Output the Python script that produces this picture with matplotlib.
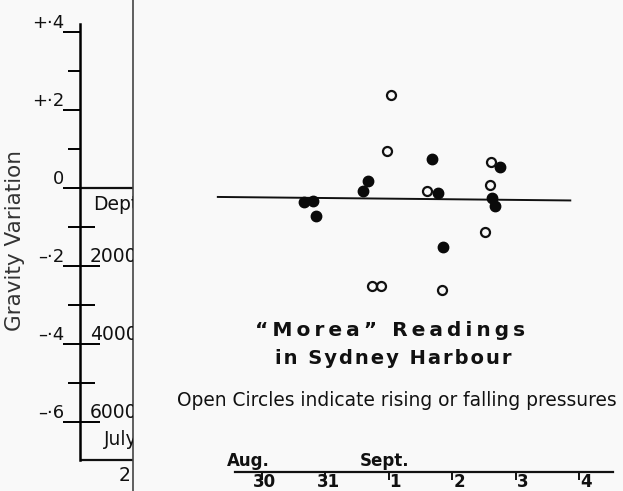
import numpy as np
import matplotlib.pyplot as plt
from matplotlib.transforms import offset_copy

plt.rcParams['font.family'] = ['DejaVu Sans']

# readings, day counted from Aug 30 (0) ; gravity variation
filled_day = [0.67, 0.81, 0.85, 1.60, 1.68, 2.69, 2.77, 2.85, 3.62, 3.67, 3.76]
filled_grav = [-0.037, -0.033, -0.071, -0.008, 0.019, 0.075, -0.014, -0.151, -0.026, -0.046, 0.055]
# open circles = rising or falling pressure
open_day = [2.04, 1.98, 2.61, 1.74, 1.88, 2.84, 3.61, 3.60, 3.52]
open_grav = [0.238, 0.096, -0.008, -0.252, -0.252, -0.262, 0.067, 0.007, -0.113]

mean_day = [-0.69, 4.86]
mean_grav = [-0.023, -0.032]

date_ticks = [0, 1, 2, 3, 4, 5]
date_labels = ['30', '31', '1', '2', '3', '4']
month_names = ['Aug.', 'Sept.']
month_day = [-0.545, 1.55]

grav_ticks = [0.4, 0.2, 0.0, -0.2, -0.4, -0.6]
grav_labels = ['+·4', '+·2', '0', '–·2', '–·4', '–·6']
grav_minor = [0.3, 0.1, -0.1, -0.3, -0.5]
depth_ticks = [2000, 4000, 6000]
depth_minor = [1000, 3000, 5000]

ylo, yhi = -0.777, 0.482
fig = plt.figure(figsize=(6.23, 4.91), dpi=100, facecolor='#f9f9f9')

# main plot area
ax = fig.add_axes([0, 0, 1, 1])
ax.set_xlim(-4.12, 5.69)
ax.set_ylim(ylo, yhi)
ax.axis('off')

ax.plot(mean_day, mean_grav, color='#111111', lw=1.4)
ax.plot(filled_day, filled_grav, 'o', ms=7.5, color='#0a0a0a', mec='#0a0a0a')
ax.plot(open_day, open_grav, 'o', ms=6.5, mfc='none', mec='#111111', mew=1.6)

# date axis
axis_y = -0.728
ax.plot([-0.42, 5.53], [axis_y, axis_y], color='#111111', lw=1.6)
ax.vlines(date_ticks, axis_y - 0.022, axis_y, color='#111111', lw=1.4)
for d, lab in zip(date_ticks, date_labels):
    if len(lab) == 2:
        tr = offset_copy(ax.transData, fig=fig, x=3, y=-1, units='dots')
        ax.text(d, axis_y, lab, transform=tr, ha='center', va='top',
                fontsize=12, fontweight='bold', color='#111111')
    else:
        tr = offset_copy(ax.transData, fig=fig, x=1, y=-1, units='dots')
        ax.text(d, axis_y, lab, transform=tr, ha='left', va='top',
                fontsize=12, fontweight='bold', color='#111111')
for d, name in zip(month_day, month_names):
    tr = offset_copy(ax.transData, fig=fig, x=0, y=2, units='dots')
    ax.text(d, axis_y, name, transform=tr, ha='left', va='bottom',
            fontsize=12, fontweight='bold', color='#111111')


def spaced(s, gap):
    return gap.join(s)


fig.text(390 / 623, 1 - 331 / 491, spaced('“Morea” Readings', '\u2009'),
         ha='center', va='center', fontsize=14.5, fontweight='bold', color='#111111')
fig.text(393 / 623, 1 - 358 / 491, spaced('in Sydney Harbour', '\u200a'),
         ha='center', va='center', fontsize=14, fontweight='bold', color='#111111')
fig.text(397 / 623, 1 - 401 / 491, 'Open Circles indicate rising or falling pressures',
         ha='center', va='center', fontsize=13.4, color='#111111')

# gravity scale on the left
ax_g = fig.add_axes([80 / 623, 0, 53 / 623, 1])
ax_g.set_facecolor('none')
ax_g.set_ylim(ylo, yhi)
ax_g.set_xlim(0, 1)
ax_g.spines['top'].set_visible(False)
ax_g.spines['bottom'].set_visible(False)
ax_g.spines['left'].set_bounds(-0.697, 0.42)
ax_g.spines['left'].set_linewidth(1.8)
ax_g.spines['right'].set_linewidth(1.2)
ax_g.spines['right'].set_color('#444444')
ax_g.set_xticks([])
ax_g.set_yticks(grav_ticks)
ax_g.set_yticklabels(grav_labels, va='bottom', fontsize=13, color='#111111')
ax_g.set_yticks(grav_minor, minor=True)
ax_g.tick_params(axis='y', which='major', direction='out', length=12.2, width=1.4, pad=-1)
ax_g.tick_params(axis='y', which='minor', direction='out', length=8.6, width=1.4)
ax_g.axhline(0, color='#111111', lw=1.6)
ax_g.axhline(-0.697, color='#111111', lw=1.6)
ax_g.set_ylabel('Gravity Variation', fontsize=15.5, color='#333333', labelpad=0)
ax_g.yaxis.set_label_coords(-1.04, 0.51)

# depth scale sharing the same line
ax_d = ax_g.twinx()
ax_d.set_ylim(-ylo * 10000, -yhi * 10000)
for s in ax_d.spines.values():
    s.set_visible(False)
ax_d.spines['right'].set_position(('axes', 0))
ax_d.set_yticks(depth_ticks)
ax_d.set_yticklabels([])
ax_d.set_yticks(depth_minor, minor=True)
ax_d.tick_params(axis='y', which='major', direction='out', length=14.4, width=1.4)
ax_d.tick_params(axis='y', which='minor', direction='out', length=10.8, width=1.4)
for dp in depth_ticks:
    ax_d.text(0.19, dp, str(dp), transform=ax_d.get_yaxis_transform(), ha='left',
              va='bottom', fontsize=13.5, color='#111111', clip_on=True)
ax_d.text(0.25, 436, 'Depth', transform=ax_d.get_yaxis_transform(), ha='left',
          va='center', fontsize=13.5, color='#111111', clip_on=True)
ax_d.text(0.45, 6460, 'July', transform=ax_d.get_yaxis_transform(), ha='left',
          va='center', fontsize=13.5, color='#111111', clip_on=True)
ax_d.text(0.72, 7360, '2', transform=ax_d.get_yaxis_transform(), ha='left',
          va='center', fontsize=13.5, color='#111111', clip_on=True)

fig.savefig('out.png', dpi=100, facecolor=fig.get_facecolor())
